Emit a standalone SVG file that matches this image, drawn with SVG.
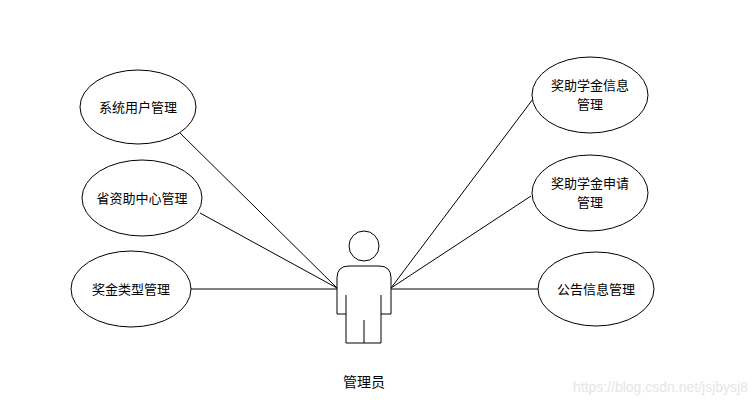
<svg xmlns="http://www.w3.org/2000/svg" width="754" height="407" viewBox="0 0 754 407">
<style>
.n{fill:#fff;stroke:#000;stroke-width:1}
.t{font-family:"Noto Sans CJK SC","Liberation Sans",sans-serif;font-size:13px;fill:#000;text-anchor:middle}
.c line{stroke:#000;stroke-width:1}
</style>
<rect width="754" height="407" fill="#fff"/>
<g class="c" id="connectors">
<line x1="180" y1="133" x2="337" y2="288"/>
<line x1="200" y1="213" x2="337" y2="288"/>
<line x1="191" y1="289" x2="337" y2="289"/>
<line x1="533" y1="99" x2="391" y2="288"/>
<line x1="531" y1="196" x2="391" y2="288"/>
<line x1="538" y1="289" x2="391" y2="289"/>
</g>
<g id="n1"><ellipse class="n" cx="138" cy="107" rx="58" ry="37"/><text class="t" x="138" y="112">系统用户管理</text></g>
<g id="n2"><ellipse class="n" cx="142" cy="198" rx="60" ry="38"/><text class="t" x="142" y="203">省资助中心管理</text></g>
<g id="n3"><ellipse class="n" cx="131" cy="289" rx="60" ry="38"/><text class="t" x="131" y="294">奖金类型管理</text></g>
<g id="n4"><ellipse class="n" cx="590" cy="95" rx="58" ry="38"/><text class="t" x="590" y="90">奖助学金信息</text><text class="t" x="590" y="109">管理</text></g>
<g id="n5"><ellipse class="n" cx="590" cy="193" rx="58" ry="38"/><text class="t" x="590" y="188">奖助学金申请</text><text class="t" x="590" y="207">管理</text></g>
<g id="n6"><ellipse class="n" cx="596" cy="289" rx="58" ry="37"/><text class="t" x="596" y="294">公告信息管理</text></g>
<g id="actor">
<circle class="n" cx="364" cy="246" r="15"/>
<path class="n" d="M337,314 V278 Q337,266 349,266 H379 Q391,266 391,278 V314 H381 V343 H346 V314 Z"/>
<line x1="346" y1="295" x2="346" y2="314" stroke="#000"/>
<line x1="381" y1="295" x2="381" y2="314" stroke="#000"/>
<line x1="364" y1="320" x2="364" y2="343" stroke="#000"/>
<text class="t" x="364" y="387" style="font-size:14px">管理员</text>
</g>
<text x="748" y="392" style="font-family:'Liberation Sans',sans-serif;font-size:14px;fill:#e6e6e6;text-anchor:end">https://blog.csdn.net/jsjbysj8</text>
</svg>
